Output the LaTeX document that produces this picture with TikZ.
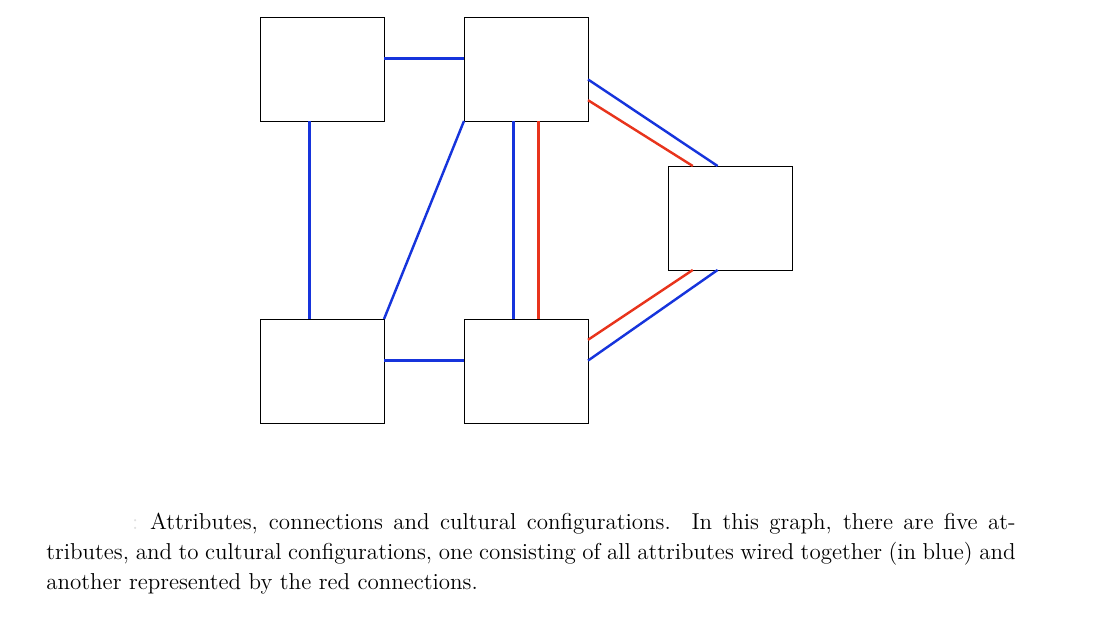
\documentclass[tikz,border=0pt]{standalone}
\usetikzlibrary{calc}
\definecolor{cfgblue}{RGB}{22,52,220}
\definecolor{cfgred}{RGB}{232,52,28}

\begin{document}
\begin{tikzpicture}[x=0.5128pt, y=-0.5128pt,
	attr/.style={draw, line width=0.45pt, inner sep=0pt, outer sep=0pt,
		minimum width=63.6pt, minimum height=53.3pt},
	blueconn/.style={cfgblue, line width=1.25pt},
	redconn/.style={cfgred, line width=1.25pt}]
		\useasboundingbox (0,0) rectangle (1097,620);

		\node[attr] (A) at (322,69) {};
		\node[attr] (B) at (526,69) {};
		\node[attr] (C) at (322,371) {};
		\node[attr] (D) at (526,371) {};
		\node[attr] (E) at (730,218) {};

		% blue configuration
		\draw[blueconn] ($(A.north east)!0.4!(A.south east)$) -- ($(B.north west)!0.4!(B.south west)$);
		\draw[blueconn] ($(C.north east)!0.4!(C.south east)$) -- ($(D.north west)!0.4!(D.south west)$);
		\draw[blueconn] ($(A.south west)!0.4!(A.south east)$) -- ($(C.north west)!0.4!(C.north east)$);
		\draw[blueconn] (C.north east) -- (B.south west);
		\draw[blueconn] ($(B.south west)!0.4!(B.south east)$) -- ($(D.north west)!0.4!(D.north east)$);
		\draw[blueconn] ($(B.north east)!0.6!(B.south east)$) -- ($(E.north west)!0.4!(E.north east)$);
		\draw[blueconn] ($(D.north east)!0.4!(D.south east)$) -- ($(E.south west)!0.4!(E.south east)$);

		% red configuration
		\draw[redconn] ($(B.south west)!0.6!(B.south east)$) -- ($(D.north west)!0.6!(D.north east)$);
		\draw[redconn] ($(B.north east)!0.8!(B.south east)$) -- ($(E.north west)!0.2!(E.north east)$);
		\draw[redconn] ($(D.north east)!0.2!(D.south east)$) -- ($(E.south west)!0.2!(E.south east)$);

		\node[anchor=north west, inner sep=0pt, text width=497pt, align=justify,
			font=\fontsize{11.8}{15.4}\selectfont] (caption) at (46,513)
			{\hspace*{44pt}{\color{black!12}:}\hspace{6pt}Attributes, connections and cultural configurations.\ \ In this graph, there are five at-\linebreak tributes, and to cultural configurations, one consisting of all attributes wired together (in blue) and\linebreak another represented by the red connections.};
\end{tikzpicture}
\end{document}
